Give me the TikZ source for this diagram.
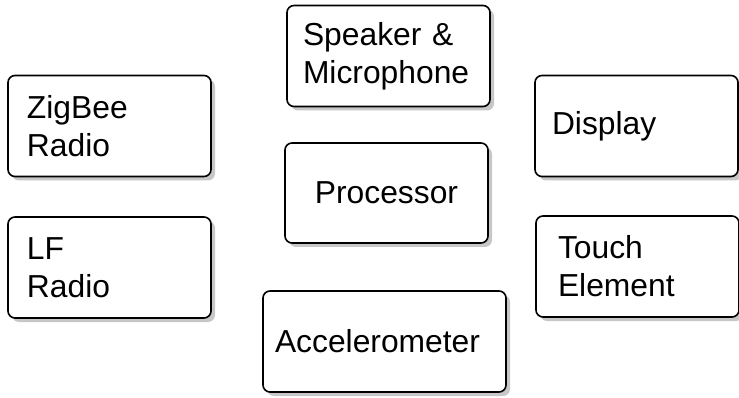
\documentclass[tikz,border=0pt]{standalone}
\usepackage{fontspec}
\setmainfont{Liberation Sans}
\usetikzlibrary{shadows}

\begin{document}
\begin{tikzpicture}[x=1pt, y=-1pt,
            part/.style={draw, line width=1.6pt, rounded corners=7pt, fill=white,
                drop shadow={shadow xshift=4pt, shadow yshift=-4pt, fill=black!22, opacity=1},
                minimum height=101pt, align=left, inner ysep=0pt,
                font=\fontsize{31.8}{38}\selectfont},
            pad/.style={inner xsep=#1}]
            \useasboundingbox (0,0) rectangle (739,398);
            \node[part, pad=19pt, text width=165pt] (zigbee) at (109.5,126) {ZigBee\\Radio};
            \node[part, pad=16pt, text width=171pt] (speaker) at (388.5,56) {Speaker \&\\Microphone};
            \node[part, pad=17pt, text width=169pt] (display) at (636.5,126) {Display};
            \node[part, pad=15pt, text width=173pt, align=center, minimum height=100pt] (processor) at (386.5,193) {Processor};
            \node[part, pad=19pt, text width=165pt] (lf) at (109.5,267.5) {LF\\Radio};
            \node[part, pad=22pt, text width=159pt] (touch) at (637.5,266.5) {Touch\\Element};
            \node[part, pad=12pt, text width=219pt] (accel) at (384.5,341.5) {Accelerometer};
        \end{tikzpicture}
\end{document}
